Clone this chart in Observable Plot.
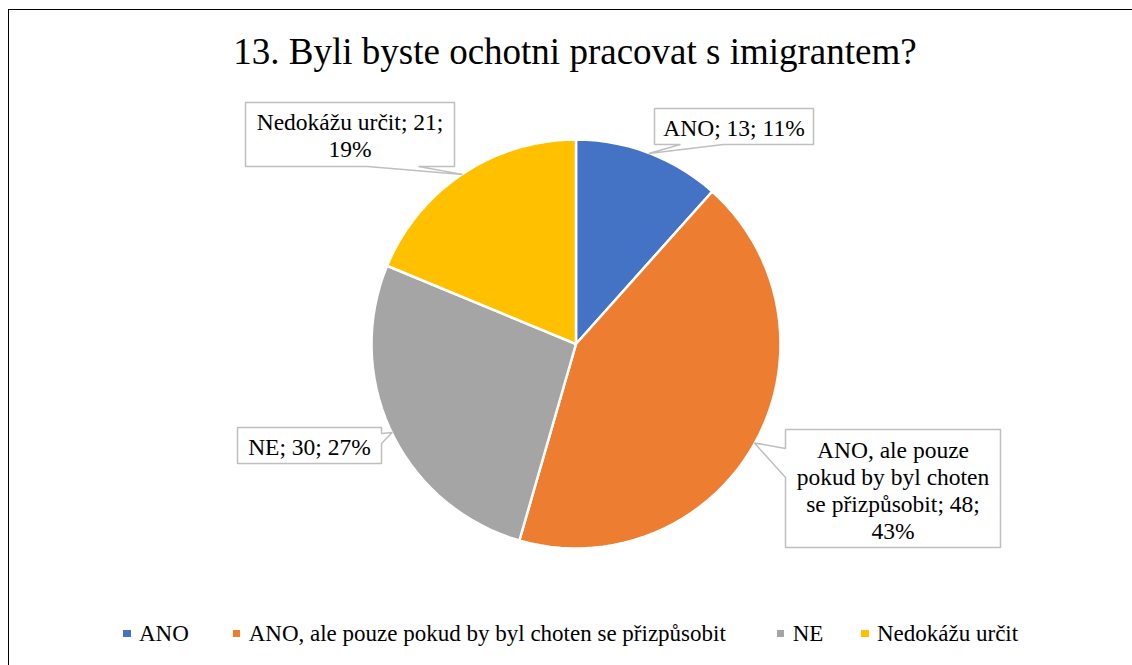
<!DOCTYPE html>
<html><head><meta charset="utf-8">
<script src="https://cdn.jsdelivr.net/npm/d3@7"></script>
<script src="https://cdn.jsdelivr.net/npm/@observablehq/plot@0.6"></script>
<style>
html,body{margin:0;padding:0;background:#fff;overflow:hidden;}
body{width:1132px;height:665px;position:relative;color:#000;font-family:'Liberation Serif';}
#frame{position:absolute;left:7.5px;top:8.5px;width:1400px;height:900px;border-left:1.5px solid #000;border-top:1.5px solid #000;}
#title{position:absolute;left:0;width:1150px;top:33px;text-align:center;font-size:37px;line-height:37px;white-space:nowrap;}
#chart{position:absolute;left:0;top:90px;}
#legend{position:absolute;left:0;top:0;font-size:23px;line-height:23px;white-space:nowrap;}
.item{position:absolute;display:flex;align-items:center;top:622.2px;}
.sw{width:7.5px;height:7.5px;margin-right:8.5px;flex:none;}
</style></head><body>
<div id="frame"></div>
<div id="chart"></div>
<div id="title"></div>
<div id="legend"></div>
<script>
// ---- data ----
const titleText = "13. Byli byste ochotni pracovat s imigrantem?";
const categories = ["ANO", "ANO, ale pouze pokud by byl choten se přizpůsobit", "NE", "Nedokážu určit"];
const counts = [13, 48, 30, 21];
const percents = [11, 43, 27, 19];
const colors = ["#4472C4", "#ED7D31", "#A5A5A5", "#FFC000"];

// ---- layout (page pixel units) ----
const W = 1132, Y0 = 90, Y1 = 560;
const pieGeom = {cx: 575.5, cy: 343.5, r: 204.5};
const legendLeft = [123, 232.7, 776.7, 861];
const labelLayout = [
  {box: [654, 108, 813, 144], edge: "bottom", base: [680, 723], tipDeg: null, words: [3], tx: 733.5, ty: 135.7},
  {box: [785, 429, 1000, 547], edge: "left", base: [448, 477], tipDeg: 119, words: [3, 4, 3, 1], tx: 892.5, ty: 538.3},
  {box: [237, 427, 381, 463], edge: "right", base: [433, 443], tipDeg: null, words: [3], tx: 309, ty: 454},
  {box: [245, 102, 454, 166], edge: "bottom", base: [367, 418], tipDeg: null, words: [3, 1], tx: 349.5, ty: 156.7}
];

const rows = categories.map((c, i) => ({cat: c, count: counts[i], pct: percents[i]}));
const arcs = d3.pie().sort(null).value(d => d.count)(rows);

// wedge polygons (about one vertex per 3 degrees)
const wedgePts = [];
arcs.forEach(a => {
  const {cx, cy, r} = pieGeom;
  wedgePts.push({cat: a.data.cat, x: cx, y: cy});
  const n = Math.max(2, Math.ceil((a.endAngle - a.startAngle) / (Math.PI / 60)));
  for (let k = 0; k <= n; k++) {
    const t = a.startAngle + (a.endAngle - a.startAngle) * k / n;
    wedgePts.push({cat: a.data.cat, x: cx + r * Math.sin(t), y: cy - r * Math.cos(t)});
  }
});

// callouts
const calloutPts = [];
const textRows = [];
arcs.forEach((a, i) => {
  const L = labelLayout[i];
  const {cx, cy, r} = pieGeom;
  const ang = L.tipDeg == null ? (a.startAngle + a.endAngle) / 2 : L.tipDeg * Math.PI / 180;
  const tip = {x: cx + (r - 0.5) * Math.sin(ang), y: cy - (r - 0.5) * Math.cos(ang)};
  const [x0, y0, x1, y1] = L.box;
  const [b0, b1] = L.base;
  let p = [[x0, y0], [x1, y0]];
  if (L.edge === "right") p.push([x1, b0], [tip.x, tip.y], [x1, b1]);
  p.push([x1, y1]);
  if (L.edge === "bottom") p.push([b1, y1], [tip.x, tip.y], [b0, y1]);
  p.push([x0, y1]);
  if (L.edge === "left") p.push([x0, b1], [tip.x, tip.y], [x0, b0]);
  p.forEach(([x, y]) => calloutPts.push({k: i, x, y}));
  const words = `${a.data.cat}; ${a.data.count}; ${a.data.pct}%`.split(" ");
  const lines = [];
  let w = 0;
  L.words.forEach(n => { lines.push(words.slice(w, w + n).join(" ")); w += n; });
  if (w < words.length) lines[lines.length - 1] += " " + words.slice(w).join(" ");
  textRows.push({x: L.tx, y: L.ty, text: lines.join("\n")});
});

const chart = Plot.plot({
  width: W, height: Y1 - Y0, margin: 0,
  x: {domain: [0, W], range: [0, W], axis: null},
  y: {domain: [Y0, Y1], range: [0, Y1 - Y0], axis: null},
  color: {domain: categories, range: colors},
  marks: [
    Plot.line(wedgePts, {x: "x", y: "y", z: "cat", fill: "cat", stroke: "white", strokeWidth: 2.5, strokeLinejoin: "miter", curve: "linear-closed"}),
    Plot.line(calloutPts, {x: "x", y: "y", z: "k", fill: "white", stroke: "#BFBFBF", strokeWidth: 1.5, strokeLinejoin: "miter", curve: "linear-closed"}),
    Plot.text(textRows, {x: "x", y: "y", text: "text", textAnchor: "middle", lineAnchor: "bottom", lineHeight: 1.14, fontSize: 23.5, fontFamily: "Liberation Serif", fill: "#000"})
  ]
});
document.getElementById("chart").appendChild(chart);

document.getElementById("title").textContent = titleText;
const leg = document.getElementById("legend");
categories.forEach((c, i) => {
  const it = document.createElement("div"); it.className = "item"; it.style.left = legendLeft[i] + "px";
  const sw = document.createElement("span"); sw.className = "sw"; sw.style.background = colors[i];
  const tx = document.createElement("span"); tx.textContent = c;
  it.appendChild(sw); it.appendChild(tx); leg.appendChild(it);
});
</script>
</body></html>
